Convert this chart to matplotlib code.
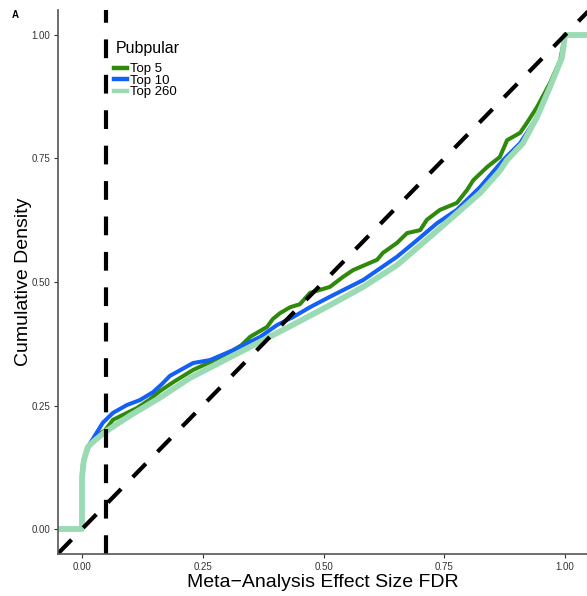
import matplotlib
matplotlib.use("Agg")
import matplotlib.pyplot as plt

plt.rcParams['font.family'] = ['Liberation Sans', 'DejaVu Sans']

# ECDF curves (x = FDR, y = cumulative density)
top5_x = [-0.06, 0.0, 0.0, 0.004, 0.017, 0.035, 0.048, 0.064, 0.093, 0.114, 0.140, 0.161,
          0.190, 0.230, 0.270, 0.313, 0.330, 0.348, 0.383, 0.395, 0.410, 0.431, 0.451,
          0.472, 0.513, 0.540, 0.561, 0.611, 0.623, 0.652, 0.673, 0.700, 0.714, 0.741,
          0.776, 0.797, 0.810, 0.839, 0.865, 0.880, 0.907, 0.921, 0.942, 0.969, 0.990,
          1.0, 1.06]
top5_y = [0.0, 0.0, 0.10, 0.14, 0.174, 0.192, 0.200, 0.221, 0.235, 0.245, 0.262, 0.279,
          0.298, 0.322, 0.340, 0.362, 0.372, 0.389, 0.409, 0.425, 0.437, 0.449, 0.455,
          0.478, 0.490, 0.510, 0.524, 0.545, 0.559, 0.579, 0.599, 0.605, 0.626, 0.646,
          0.660, 0.686, 0.706, 0.733, 0.753, 0.787, 0.802, 0.822, 0.854, 0.903, 0.949,
          1.0, 1.0]

top10_x = [-0.06, 0.0, 0.0, 0.002, 0.010, 0.021, 0.043, 0.064, 0.093, 0.120, 0.147, 0.165,
           0.182, 0.230, 0.265, 0.313, 0.369, 0.404, 0.437, 0.472, 0.513, 0.582, 0.652,
           0.694, 0.735, 0.776, 0.803, 0.824, 0.872, 0.907, 0.942, 0.969, 0.994, 1.0, 1.06]
top10_y = [0.0, 0.0, 0.10, 0.134, 0.160, 0.180, 0.215, 0.235, 0.251, 0.261, 0.277, 0.293,
           0.310, 0.336, 0.342, 0.362, 0.389, 0.413, 0.429, 0.449, 0.470, 0.504, 0.551,
           0.585, 0.619, 0.646, 0.672, 0.692, 0.747, 0.781, 0.834, 0.895, 0.955, 1.0, 1.0]

top260_x = [-0.06, 0.0, 0.0, 0.004, 0.012, 0.027, 0.050, 0.100, 0.160, 0.224, 0.327, 0.430,
            0.513, 0.582, 0.652, 0.720, 0.789, 0.824, 0.865, 0.880, 0.913, 0.942, 0.969,
            0.994, 1.0, 1.06]
top260_y = [0.0, 0.0, 0.105, 0.14, 0.166, 0.180, 0.198, 0.230, 0.265, 0.306, 0.358, 0.410,
            0.453, 0.490, 0.534, 0.591, 0.650, 0.680, 0.725, 0.747, 0.781, 0.834, 0.895,
            0.955, 1.0, 1.0]

labels = ['Top 5', 'Top 10', 'Top 260']
colors = ['#2F8A0B', '#1260F5', '#9ADBB4']
widths = [2.9, 2.9, 4.2]
fdr_cut = 0.05
ticks = [0.0, 0.25, 0.5, 0.75, 1.0]
tick_labels = ['0.00', '0.25', '0.50', '0.75', '1.00']

W, H = 587, 596
fig = plt.figure(figsize=(W / 100, H / 100), dpi=100)
ax = fig.add_axes([58 / W, 1 - 554 / H, 529 / W, 544 / H])

handles = []
for xs, ys, lab, c, w in zip([top5_x, top10_x, top260_x], [top5_y, top10_y, top260_y],
                             labels, colors, widths):
    h, = ax.plot(xs, ys, color=c, lw=w, label=lab, solid_joinstyle='round')
    handles.append(h)

ax.axvline(fdr_cut, color='black', lw=3, dashes=(4.5, 4))
ax.plot([-0.1, 1.1], [-0.1, 1.1], color='black', lw=3, dashes=(4.5, 4))

ax.set_xlim(-0.0497, 1.0455)
ax.set_ylim(-0.0506, 1.0506)
ax.set_xticks(ticks)
ax.set_xticklabels(tick_labels)
ax.set_yticks(ticks)
ax.set_yticklabels(tick_labels)
ax.tick_params(labelsize=7, colors='#333333', length=3, width=0.8, pad=2.5)
for side in ['top', 'right']:
    ax.spines[side].set_visible(False)
for side in ['left', 'bottom']:
    ax.spines[side].set_color('#555555')
    ax.spines[side].set_linewidth(1.2)

ax.set_xlabel('Meta\u2212Analysis Effect Size FDR', fontsize=14, labelpad=2)
ax.set_ylabel('Cumulative Density', fontsize=14)
ax.yaxis.set_label_coords(-0.05, 0.5)

# legend: title as its own text, rows packed tightly like the ggplot one
fig.text(116 / W, 1 - 48 / H, 'Pubpular', fontsize=11.5, va='center')
leg = fig.legend(handles=[plt.Line2D([], [], color=c, lw=3.2) for c in colors],
                 labels=labels, loc='upper left', bbox_to_anchor=(114 / W, 1 - 63 / H),
                 frameon=False, fontsize=9.5, handlelength=0.95, handletextpad=0.3,
                 labelspacing=-0.05, borderpad=0, borderaxespad=0)

fig.text(12 / W, 1 - 15 / H, 'A', fontsize=7, fontweight='bold', va='center')

fig.savefig('out.png', dpi=100)
